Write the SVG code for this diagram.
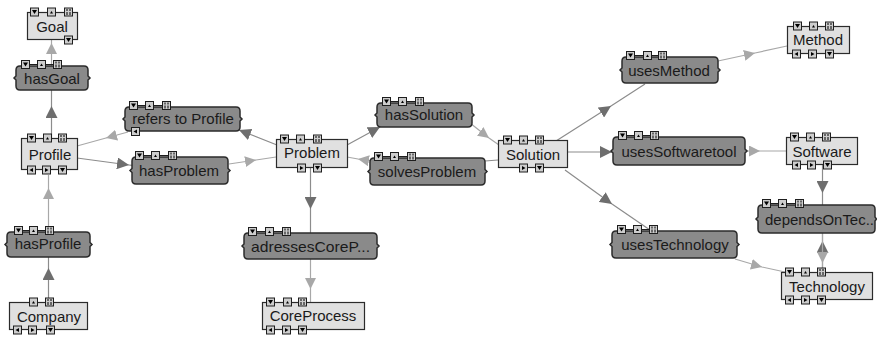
<svg xmlns="http://www.w3.org/2000/svg" width="877" height="338" viewBox="0 0 877 338">
<style>
.box{fill:#e0e0e0;stroke:#2b2b2b;stroke-width:1.2}
.pill{fill:#8a8a8a;stroke:#2b2b2b;stroke-width:1.5}
.t{font-family:"Liberation Sans",Arial,sans-serif;font-size:15px;fill:#1a1a1a;text-anchor:middle}
.cd{fill:none;stroke:#8c8c8c;stroke-width:1.2;marker-mid:url(#ad)}
.cl{fill:none;stroke:#a8a8a8;stroke-width:1.2;marker-mid:url(#al)}
.cp{fill:none;stroke:#8c8c8c;stroke-width:1.2}
.lk{fill:none;stroke:#1e1e1e;stroke-width:1}
</style>
<defs>
<marker id="ad" viewBox="0 0 12 12" refX="12" refY="6" markerWidth="12" markerHeight="12" markerUnits="userSpaceOnUse" orient="auto"><path d="M0,0 L12,6 L0,12 Z" fill="#6e6e6e"/></marker>
<marker id="al" viewBox="0 0 11 11" refX="11" refY="5.5" markerWidth="11" markerHeight="11" markerUnits="userSpaceOnUse" orient="auto"><path d="M0,0 L11,5.5 L0,11 Z" fill="#a8a8a8"/></marker>
<g id="dn"><rect x="0.5" y="0.5" width="8" height="8" fill="#cdcdcd" stroke="#1e1e1e" stroke-width="1"/><path d="M2,2.5 H7 L4.5,6.5 Z" fill="#000"/></g>
<g id="up"><rect x="0.5" y="0.5" width="8" height="8" fill="#cdcdcd" stroke="#1e1e1e" stroke-width="1"/><path d="M3,6 H6 L4.5,3.5 Z" fill="#000"/></g>
<g id="hh"><rect x="0.5" y="0.5" width="8" height="8" fill="#cdcdcd" stroke="#1e1e1e" stroke-width="1"/><path d="M3,1.5V3.5 M3,4.5V7.5 M6,1.5V3.5 M6,4.5V7.5" fill="none" stroke="#000" stroke-width="1"/></g>
<g id="lt"><rect x="0.5" y="0.5" width="8" height="8" fill="#cdcdcd" stroke="#1e1e1e" stroke-width="1"/><path d="M2.5,4.5 L6,2.5 V6.5 Z" fill="#000"/></g>
<g id="rt"><rect x="0.5" y="0.5" width="8" height="8" fill="#cdcdcd" stroke="#1e1e1e" stroke-width="1"/><path d="M6.5,4.5 L3,2.5 V6.5 Z" fill="#000"/></g>
</defs>

<g id="connectors">
<path class="cl" d="M51.5,66 L51.5,43 L51.5,40"/>
<path class="cd" d="M51.5,138 L51.5,106 L51.5,90"/>
<path class="cl" d="M128,132 L106,138 L77,146"/>
<path class="cd" d="M77,158 L129,165 L132,165.4"/>
<path class="cl" d="M229,164 L256,160 L276,157"/>
<path class="cd" d="M277,145 L239,130 L236.5,129"/>
<path class="cd" d="M347,145 L380,127 L382,126"/>
<path class="cl" d="M470,123 L489,138 L499,145"/>
<path class="cp" d="M485,161 L498,160"/>
<path class="cl" d="M372,161 L358,159 L347,157"/>
<path class="cd" d="M310.5,168 L310.5,209 L310.5,233"/>
<path class="cl" d="M310.5,259 L310.5,289 L310.5,302"/>
<path class="cd" d="M48.5,302 L48.5,268 L48.5,257"/>
<path class="cl" d="M48.5,232 L48.5,188 L48.5,175"/>
<path class="cd" d="M556,141 L611,106 L645,84"/>
<path class="cl" d="M718,61 L755,53 L787,46"/>
<path class="cd" d="M567,152 L612,152 L613,152"/>
<path class="cl" d="M747,151 L760,151 L786,151"/>
<path class="cd" d="M565,170 L612,204 L650,230"/>
<path class="cl" d="M735,259 L762,267 L785,272"/>
<path class="cd" d="M822.5,165 L822.5,193 L822.5,205"/>
<path class="cd" d="M822.5,272 L822.5,241 L822.5,233"/>
<path class="cl" d="M822.5,233 L822.5,263 L822.5,272"/>
</g>

<g id="n-goal">
<rect class="box" x="27.5" y="12.5" width="50" height="27"/>
<text class="t" x="52" y="32">Goal</text>
<use href="#dn" x="30" y="7.5"/><use href="#up" x="47" y="7.5"/><use href="#hh" x="64" y="7.5"/>
<use href="#dn" x="64" y="35.5"/>
</g>

<g id="n-hasgoal">
<path class="pill" d="M20,66 H84 Q88,66 88,70 V76 L90,78 L88,80 V86 Q88,90 84,90 H20 Q16,90 16,86 V80 L14,78 L16,76 V70 Q16,66 20,66 Z"/>
<text class="t" x="52" y="84">hasGoal</text>
<path class="lk" d="M30,64.5 H53"/>
<use href="#dn" x="21" y="60"/><use href="#up" x="37" y="60"/><use href="#hh" x="53" y="60"/>
</g>

<g id="n-profile">
<rect class="box" x="21.5" y="138.5" width="56" height="31"/>
<text class="t" x="50" y="160">Profile</text>
<use href="#dn" x="27" y="133.5"/><use href="#up" x="43" y="133.5"/><use href="#hh" x="58" y="133.5"/>
<use href="#lt" x="27" y="165.5"/><use href="#rt" x="42" y="165.5"/><use href="#dn" x="58" y="165.5"/>
</g>

<g id="n-refers">
<path class="pill" d="M129,107 H236 Q240,107 240,111 V117 L242,119 L240,121 V127 Q240,131 236,131 H129 Q125,131 125,127 V121 L123,119 L125,117 V111 Q125,107 129,107 Z"/>
<text class="t" x="183" y="124">refers to Profile</text>
<path class="lk" d="M138,105.5 H162"/>
<use href="#dn" x="129" y="101"/><use href="#up" x="145" y="101"/><use href="#hh" x="162" y="101"/>
<use href="#lt" x="131" y="127"/>
</g>

<g id="n-hasproblem">
<path class="pill" d="M136,157 H224 Q228,157 228,161 V168.5 L230,170.5 L228,172.5 V180 Q228,184 224,184 H136 Q132,184 132,180 V172.5 L130,170.5 L132,168.5 V161 Q132,157 136,157 Z"/>
<text class="t" x="179" y="176">hasProblem</text>
<path class="lk" d="M144,155.5 H168"/>
<use href="#dn" x="135" y="151"/><use href="#up" x="151" y="151"/><use href="#hh" x="168" y="151"/>
</g>

<g id="n-hasprofile">
<path class="pill" d="M11,232 H86 Q90,232 90,236 V242.5 L92,244.5 L90,246.5 V253 Q90,257 86,257 H11 Q7,257 7,253 V246.5 L5,244.5 L7,242.5 V236 Q7,232 11,232 Z"/>
<text class="t" x="48" y="249">hasProfile</text>
<path class="lk" d="M23,230.5 H45"/>
<use href="#dn" x="14" y="226"/><use href="#up" x="29" y="226"/><use href="#hh" x="45" y="226"/>
</g>

<g id="n-company">
<rect class="box" x="9.5" y="302.5" width="78" height="27"/>
<text class="t" x="49" y="322">Company</text>
<use href="#up" x="29" y="297.5"/><use href="#hh" x="45" y="297.5"/>
<use href="#lt" x="13" y="325.5"/><use href="#rt" x="28" y="325.5"/><use href="#dn" x="46" y="325.5"/>
</g>

<g id="n-problem">
<rect class="box" x="276.5" y="139.5" width="71" height="28"/>
<text class="t" x="312" y="158">Problem</text>
<use href="#dn" x="280" y="134.5"/><use href="#up" x="296" y="134.5"/><use href="#hh" x="313" y="134.5"/>
<use href="#rt" x="297" y="163.5"/><use href="#dn" x="313" y="163.5"/>
</g>

<g id="n-hassolution">
<path class="pill" d="M381,103 H468 Q472,103 472,107 V113 L474,115 L472,117 V123 Q472,127 468,127 H381 Q377,127 377,123 V117 L375,115 L377,113 V107 Q377,103 381,103 Z"/>
<text class="t" x="424" y="120">hasSolution</text>
<path class="lk" d="M391,101.5 H415"/>
<use href="#dn" x="382" y="97"/><use href="#up" x="398" y="97"/><use href="#hh" x="415" y="97"/>
</g>

<g id="n-solvesproblem">
<path class="pill" d="M374,158 H481 Q485,158 485,162 V169.5 L487,171.5 L485,173.5 V181 Q485,185 481,185 H374 Q370,185 370,181 V173.5 L368,171.5 L370,169.5 V162 Q370,158 374,158 Z"/>
<text class="t" x="427" y="177">solvesProblem</text>
<path class="lk" d="M383,156.5 H407"/>
<use href="#dn" x="374" y="152"/><use href="#up" x="390" y="152"/><use href="#hh" x="407" y="152"/>
</g>

<g id="n-adresses">
<path class="pill" d="M248,233 H373 Q377,233 377,237 V244 L379,246 L377,248 V255 Q377,259 373,259 H248 Q244,259 244,255 V248 L242,246 L244,244 V237 Q244,233 248,233 Z"/>
<text class="t" x="310.5" y="252" textLength="119" lengthAdjust="spacingAndGlyphs">adressesCoreP...</text>
<path class="lk" d="M257,231.5 H282"/>
<use href="#dn" x="248" y="227"/><use href="#up" x="265" y="227"/><use href="#hh" x="282" y="227"/>
</g>

<g id="n-coreprocess">
<rect class="box" x="262.5" y="302.5" width="102" height="27"/>
<text class="t" x="313" y="321">CoreProcess</text>
<use href="#dn" x="266" y="297.5"/><use href="#up" x="283" y="297.5"/><use href="#hh" x="298" y="297.5"/>
<use href="#lt" x="266" y="325.5"/><use href="#rt" x="282" y="325.5"/><use href="#dn" x="298" y="325.5"/>
</g>

<g id="n-solution">
<rect class="box" x="498.5" y="140.5" width="69" height="27"/>
<text class="t" x="533" y="160">Solution</text>
<use href="#dn" x="503" y="135.5"/><use href="#up" x="519" y="135.5"/><use href="#hh" x="535" y="135.5"/>
<use href="#rt" x="519" y="163.5"/><use href="#dn" x="535" y="163.5"/>
</g>

<g id="n-usesmethod">
<path class="pill" d="M626,57 H714 Q718,57 718,61 V68 L720,70 L718,72 V79 Q718,83 714,83 H626 Q622,83 622,79 V72 L620,70 L622,68 V61 Q622,57 626,57 Z"/>
<text class="t" x="669" y="76">usesMethod</text>
<path class="lk" d="M635,55.5 H658"/>
<use href="#dn" x="626" y="51"/><use href="#up" x="643" y="51"/><use href="#hh" x="658" y="51"/>
</g>

<g id="n-method">
<rect class="box" x="787.5" y="26.5" width="62" height="27"/>
<text class="t" x="818" y="45">Method</text>
<use href="#dn" x="793" y="21.5"/><use href="#up" x="809" y="21.5"/><use href="#hh" x="825" y="21.5"/>
<use href="#lt" x="792" y="49.5"/><use href="#rt" x="808" y="49.5"/><use href="#dn" x="825" y="49.5"/>
</g>

<g id="n-usessoftwaretool">
<path class="pill" d="M617,137 H741 Q745,137 745,141 V149 L747,151 L745,153 V161 Q745,165 741,165 H617 Q613,165 613,161 V153 L611,151 L613,149 V141 Q613,137 617,137 Z"/>
<text class="t" x="679" y="157">usesSoftwaretool</text>
<path class="lk" d="M627,135.5 H650"/>
<use href="#dn" x="618" y="131"/><use href="#up" x="634" y="131"/><use href="#hh" x="650" y="131"/>
</g>

<g id="n-software">
<rect class="box" x="786.5" y="137.5" width="71" height="27"/>
<text class="t" x="822" y="157">Software</text>
<use href="#dn" x="790" y="132.5"/><use href="#up" x="806" y="132.5"/><use href="#hh" x="822" y="132.5"/>
<use href="#lt" x="792" y="160.5"/><use href="#rt" x="807" y="160.5"/><use href="#dn" x="823" y="160.5"/>
</g>

<g id="n-usestechnology">
<path class="pill" d="M616,231 H733 Q737,231 737,235 V242.5 L739,244.5 L737,246.5 V254 Q737,258 733,258 H616 Q612,258 612,254 V246.5 L610,244.5 L612,242.5 V235 Q612,231 616,231 Z"/>
<text class="t" x="675" y="250">usesTechnology</text>
<path class="lk" d="M626,229.5 H649"/>
<use href="#dn" x="617" y="225"/><use href="#up" x="633" y="225"/><use href="#hh" x="649" y="225"/>
</g>

<g id="n-dependson">
<path class="pill" d="M762,205 H871 Q875,205 875,209 V217 L876.5,219 L875,221 V229 Q875,233 871,233 H762 Q758,233 758,229 V221 L756,219 L758,217 V209 Q758,205 762,205 Z"/>
<text class="t" x="765" y="225" style="text-anchor:start" textLength="109" lengthAdjust="spacingAndGlyphs">dependsOnTec..</text>
<path class="lk" d="M771,203.5 H795"/>
<use href="#dn" x="762" y="199"/><use href="#up" x="778" y="199"/><use href="#hh" x="795" y="199"/>
</g>

<g id="n-technology">
<rect class="box" x="781.5" y="272.5" width="91" height="27"/>
<text class="t" x="827" y="292">Technology</text>
<use href="#dn" x="785" y="267.5"/><use href="#up" x="801" y="267.5"/><use href="#hh" x="817" y="267.5"/>
<use href="#lt" x="785" y="295.5"/><use href="#rt" x="801" y="295.5"/><use href="#dn" x="817" y="295.5"/>
</g>
</svg>
